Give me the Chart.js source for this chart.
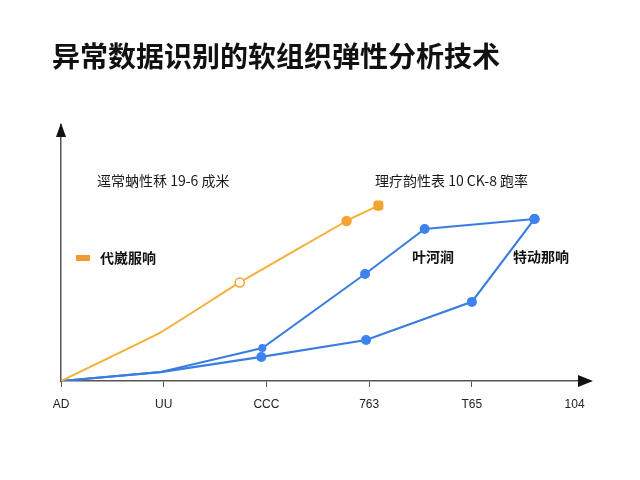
<!DOCTYPE html>
<html>
<head>
<meta charset="utf-8">
<script src="https://cdn.jsdelivr.net/npm/chart.js@4.4.1/dist/chart.umd.min.js"></script>
<style>
  html, body { margin: 0; padding: 0; background: #fff; }
  #wrap { width: 640px; height: 480px; }
</style>
</head>
<body>
<div id="wrap"><canvas id="chart" width="640" height="480"></canvas></div>
<script>
const titleText = "异常数据识别的软组织弹性分析技术";
const tickLabels = ["AD", "UU", "CCC", "763", "T65", "104"];

const orangeX = [0, 0.97, 1.74, 2.78, 3.09];
const orangeY = [0, 19, 38.5, 62.5, 68.5];
const blueUpperX = [0, 0.97, 1.96, 2.96, 3.54, 4.61];
const blueUpperY = [0, 3.5, 12.9, 41.8, 59.4, 63.3];
const blueLowerX = [0, 0.97, 1.95, 2.97, 4.0, 4.61];
const blueLowerY = [0, 3.5, 9.4, 16.0, 30.9, 63.3];

const noteLeft = "逕常蚋性秝 19-6 成米";
const noteRight = "理疗韵性表 10 CK-8 跑率";
const legendText = "代崴服响";
const labelMid = "叶河涧";
const labelRight = "特动那响";

const ORANGE = "#F4B13A";
const ORANGE_MARK = "#F5A331";
const BLUE = "#3A7DE0";
const AXIS = "#555";
const CJK = '"Noto Sans CJK SC", "Noto Sans", sans-serif';

const pts = (xs, ys) => xs.map((x, i) => ({ x, y: ys[i] }));

const decorations = {
  id: "decorations",
  afterDraw(chart) {
    const { ctx, chartArea: a } = chart;
    ctx.save();
    ctx.fillStyle = "#111";
    // x axis arrow
    ctx.beginPath();
    ctx.moveTo(a.right + 3, a.bottom);
    ctx.lineTo(a.right - 12, a.bottom - 6);
    ctx.lineTo(a.right - 12, a.bottom + 6);
    ctx.closePath();
    ctx.fill();
    // y axis arrow
    ctx.beginPath();
    ctx.moveTo(a.left, a.top - 2);
    ctx.lineTo(a.left - 5, a.top + 12);
    ctx.lineTo(a.left + 5, a.top + 12);
    ctx.closePath();
    ctx.fill();

    ctx.textBaseline = "middle";
    ctx.fillStyle = "#1a1a1a";
    ctx.font = "14px " + CJK;
    ctx.fillText(noteLeft, 97, 181);
    ctx.fillText(noteRight, 375, 181);

    ctx.fillStyle = "#F39A34";
    ctx.fillRect(76, 255, 14, 6);
    ctx.fillStyle = "#111";
    ctx.font = "bold 14px " + CJK;
    ctx.fillText(legendText, 100, 258);
    ctx.fillText(labelMid, 412, 257);
    ctx.fillText(labelRight, 513, 257);
    ctx.restore();
  }
};

new Chart(document.getElementById("chart"), {
  type: "scatter",
  data: {
    datasets: [
      {
        data: pts(orangeX, orangeY),
        showLine: true,
        borderColor: ORANGE,
        borderWidth: 2,
        tension: 0.1,
        pointRadius: [0, 0, 4.5, 4.5, 5],
        pointStyle: ["circle", "circle", "circle", "circle", "rectRounded"],
        pointBackgroundColor: [ORANGE_MARK, ORANGE_MARK, "#fff", ORANGE_MARK, ORANGE_MARK],
        pointBorderColor: ORANGE_MARK,
        pointBorderWidth: 1.5
      },
      {
        data: pts(blueUpperX, blueUpperY),
        showLine: true,
        borderColor: BLUE,
        borderWidth: 2,
        tension: 0,
        pointRadius: [0, 0, 4, 5, 5, 5],
        pointBackgroundColor: "#3C82F0",
        pointBorderColor: "#3C82F0",
        pointBorderWidth: 0
      },
      {
        data: pts(blueLowerX, blueLowerY),
        showLine: true,
        borderColor: BLUE,
        borderWidth: 2.2,
        tension: 0,
        pointRadius: [0, 0, 5, 5, 5, 5],
        pointBackgroundColor: "#3C82F0",
        pointBorderColor: "#3C82F0",
        pointBorderWidth: 0
      }
    ]
  },
  options: {
    responsive: false,
    animation: false,
    devicePixelRatio: 1,
    layout: { padding: { left: 52, right: 50, top: 0, bottom: 0 } },
    plugins: {
      legend: { display: false },
      tooltip: { enabled: false },
      title: {
        display: true,
        text: titleText,
        align: "start",
        color: "#111",
        font: { family: CJK, size: 28, weight: "bold", lineHeight: 1.2 },
        padding: { top: 40, bottom: 51.4 }
      }
    },
    scales: {
      x: {
        type: "linear",
        min: 0,
        max: 5.15,
        afterBuildTicks: (scale) => { scale.ticks = tickLabels.map((_, i) => ({ value: i })); },
        afterFit: (scale) => { scale.height = 99; },
        border: { display: true, color: AXIS, width: 1.5 },
        grid: {
          drawOnChartArea: false,
          drawTicks: true,
          tickLength: 6,
          color: (c) => (c.tick && c.tick.value === 5 ? "rgba(0,0,0,0)" : AXIS)
        },
        ticks: {
          padding: 10,
          maxRotation: 0,
          autoSkip: false,
          color: "#222",
          font: { family: '"Liberation Sans", Arial, sans-serif', size: 12 },
          callback: (v) => tickLabels[v] ?? ""
        }
      },
      y: {
        min: 0,
        max: 100,
        afterFit: (scale) => { scale.width = 9; },
        border: { display: true, color: AXIS, width: 1.5 },
        grid: { display: false },
        ticks: { display: false }
      }
    }
  },
  plugins: [decorations]
});
</script>
</body>
</html>
